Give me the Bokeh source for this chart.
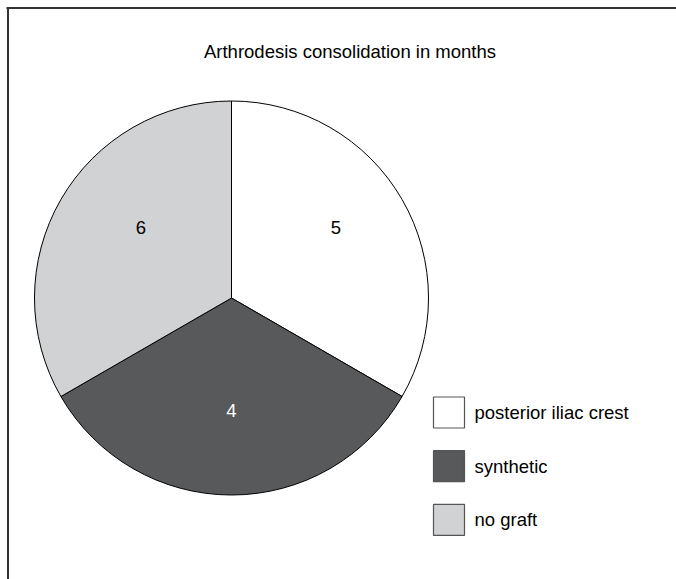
import math
from bokeh.plotting import figure
from bokeh.models import Range1d, ColumnDataSource
from bokeh.core.properties import value
from bokeh.embed import file_html
from bokeh.resources import INLINE

# ---- data ----
title_text = "Arthrodesis consolidation in months"
groups = ["posterior iliac crest", "synthetic", "no graft"]
months = [5, 4, 6]
slice_share = [1, 1, 1]          # slices drawn as equal thirds in the reference
colors = ["#ffffff", "#58595b", "#d1d2d4"]
label_colors = ["#000000", "#ffffff", "#000000"]

W, H = 676, 579
FONT = value("Liberation Sans")
FS = "18.5px"

p = figure(width=W, height=H, output_backend="svg", toolbar_location=None,
           x_range=Range1d(0, W), y_range=Range1d(0, H), min_border=0)
p.axis.visible = False
p.grid.visible = False
p.outline_line_color = None
p.background_fill_color = "white"
p.border_fill_color = "white"

def py(y):  # screen y -> data y
    return H - y

def px(x):
    return x

cx, cy, R = px(231), py(297.5), 197

# wedges, going clockwise from 12 o'clock
total = sum(slice_share)
starts, ends, lx, ly = [], [], [], []
a = math.pi / 2
label_r = [126, 112, 115]
label_nudge = [4, 0, -8]  # degrees
for i, s in enumerate(slice_share):
    span = 2 * math.pi * s / total
    end = a
    start = a - span
    starts.append(start)
    ends.append(end)
    mid = (start + end) / 2 + math.radians(label_nudge[i])
    lx.append(cx + label_r[i] * math.cos(mid))
    ly.append(cy + label_r[i] * math.sin(mid))
    a = start

src = ColumnDataSource(dict(start=starts, end=ends, color=colors,
                            lx=lx, ly=ly, txt=[str(m) for m in months],
                            tc=label_colors))
p.wedge(x=cx, y=cy, radius=R, start_angle="start", end_angle="end",
        fill_color="color", line_color="black", line_width=1, source=src)
p.text(x="lx", y="ly", text="txt", text_color="tc", text_font=FONT,
       text_font_size=FS, text_align="center", text_baseline="middle",
       source=src)

# title
p.text(x=[px(349.5)], y=[py(51)], text=[title_text], text_font=FONT,
       text_font_size=FS, text_align="center", text_baseline="middle",
       text_color="black")

# legend
box_x = px(448.5)
box_y = [py(412 + 53.7 * i) for i in range(len(groups))]
p.rect(x=[box_x] * len(groups), y=box_y, width=31, height=31,
       fill_color=colors, line_color="#555555", line_width=1.2)
p.text(x=[px(474)] * len(groups), y=box_y, text=groups, text_font=FONT,
       text_font_size=FS, text_align="left", text_baseline="middle",
       text_color="black")

# frame lines (top and left)
p.segment(x0=[px(6), px(7.5)], y0=[py(7.5), py(6.5)],
          x1=[px(W), px(7.5)], y1=[py(7.5), py(H)],
          line_color="#333333", line_width=2)

open("out.html", "w").write(file_html(p, INLINE))
